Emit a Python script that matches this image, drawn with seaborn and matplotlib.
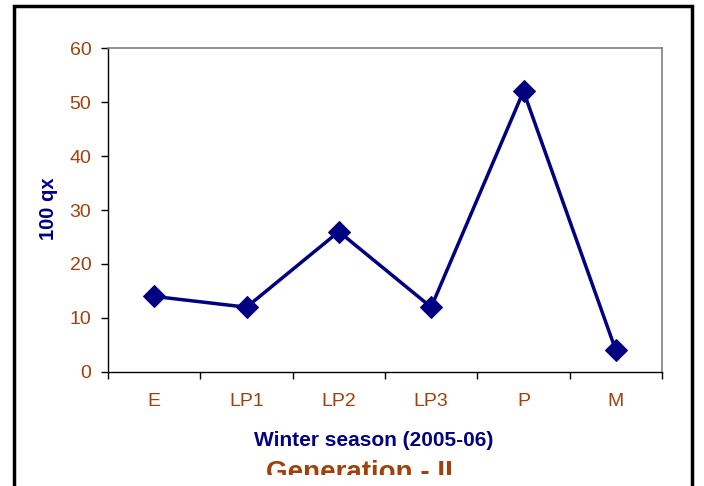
import numpy as np
import pandas as pd
import matplotlib.pyplot as plt
from matplotlib.patches import Rectangle
from matplotlib.ticker import FixedLocator
from matplotlib.transforms import Bbox, TransformedBbox
import seaborn as sns

# Data
stages = ['E', 'LP1', 'LP2', 'LP3', 'P', 'M']
qx100 = [14, 12, 26, 12, 52, 4]

df = pd.DataFrame({'stage': stages, 'qx': qx100})

sns.set_style("white")
plt.rcParams['font.family'] = ['Liberation Sans', 'DejaVu Sans']

navy = '#000080'
brown = '#A0400A'

fig = plt.figure(figsize=(7.04, 4.86), dpi=100)
ax = fig.add_axes([108 / 704, 1 - 372 / 486, 554 / 704, 324 / 486])

sns.lineplot(data=df, x='stage', y='qx', ax=ax, color=navy, linewidth=2.5,
             marker='D', markersize=11.5, markeredgecolor=navy, sort=False)

ax.set_xlim(-0.5, len(stages) - 0.5)
ax.set_ylim(0, 60)
ax.set_yticks(np.arange(0, 61, 10))
ax.set_xticks(range(len(stages)))
ax.set_xticklabels(stages)
ax.xaxis.set_minor_locator(FixedLocator(np.arange(-0.5, len(stages), 1)))

ax.tick_params(axis='x', which='major', length=0, pad=15, labelsize=14, labelcolor=brown)
ax.tick_params(axis='x', which='minor', length=5, width=1, color='black', direction='out', bottom=True)
ax.tick_params(axis='y', length=5, width=1, color='black', direction='out', left=True,
               labelsize=14, labelcolor=brown, pad=7)

ax.set_xlabel('Winter season (2005-06)', color=navy, fontsize=15, fontweight='bold',
              labelpad=0)
ax.xaxis.set_label_coords((374 - 108) / 554, -(440 - 372) / 324)
ax.xaxis.label.set_va('center')
ax.set_ylabel('100 qx', color=navy, fontsize=14.5, fontweight='bold')
ax.yaxis.set_label_coords(-(108 - 48) / 554, (372 - 209) / 324)
ax.yaxis.label.set_va('center')

for side in ['left', 'bottom']:
    ax.spines[side].set_color('black')
    ax.spines[side].set_linewidth(1)
for side in ['top', 'right']:
    ax.spines[side].set_visible(True)
    ax.spines[side].set_color('#808080')
    ax.spines[side].set_linewidth(1.2)

# title sits at the bottom edge and is cut off, as in the original
title = fig.text(359 / 704, 1 - 480 / 486, 'Generation - II', color=brown, fontsize=20,
                 fontweight='bold', ha='center', va='baseline')
title.set_clip_box(TransformedBbox(Bbox([[0, 11 / 486], [1, 1]]), fig.transFigure))
title.set_clip_on(True)

# outer frame of the chart area
fig.patches.append(Rectangle((14 / 704, -0.05), (692 - 14) / 704, 1 - 6 / 486 + 0.05,
                             transform=fig.transFigure, fill=False,
                             edgecolor='black', linewidth=2.5))

fig.savefig('out.png', dpi=100)
